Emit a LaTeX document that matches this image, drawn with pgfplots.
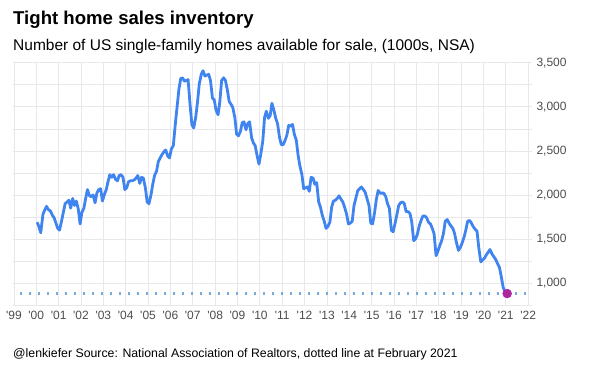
\documentclass[border=0pt]{standalone}
\usepackage{pgfplots}
\pgfplotsset{compat=1.18}
\usepackage{fontspec}
\setmainfont{Liberation Sans}
\definecolor{lineblue}{RGB}{64,132,240}
\definecolor{markc}{RGB}{172,38,158}
\definecolor{dotc}{RGB}{125,170,220}
\definecolor{gridc}{RGB}{232,232,236}
\definecolor{labc}{RGB}{77,77,77}
\newcommand\q{\textquotesingle}
\pgfplotstableread{
x y
2000.04 1690
2000.12 1640
2000.20 1570
2000.30 1780
2000.38 1830
2000.46 1870
2000.55 1830
2000.63 1820
2000.72 1770
2000.80 1740
2000.88 1680
2000.96 1620
2001.04 1600
2001.13 1700
2001.21 1800
2001.29 1900
2001.38 1920
2001.46 1940
2001.54 1850
2001.63 1960
2001.71 1880
2001.79 1930
2001.88 1840
2001.96 1670
2002.04 1800
2002.13 1850
2002.21 1960
2002.29 2060
2002.38 1990
2002.46 1980
2002.54 2000
2002.63 1910
2002.71 2020
2002.79 2060
2002.88 2070
2002.96 1930
2003.04 2000
2003.13 2060
2003.21 2150
2003.29 2230
2003.38 2200
2003.46 2230
2003.54 2180
2003.63 2160
2003.71 2220
2003.79 2230
2003.88 2200
2003.96 2060
2004.04 2080
2004.13 2150
2004.21 2160
2004.29 2160
2004.38 2170
2004.46 2190
2004.54 2220
2004.63 2130
2004.71 2200
2004.79 2190
2004.88 2080
2004.96 1920
2005.04 1900
2005.13 2000
2005.21 2120
2005.29 2220
2005.38 2270
2005.46 2380
2005.54 2420
2005.63 2460
2005.71 2490
2005.79 2510
2005.88 2440
2005.96 2420
2006.04 2520
2006.13 2560
2006.21 2780
2006.29 2980
2006.38 3200
2006.46 3320
2006.54 3330
2006.63 3290
2006.71 3300
2006.79 3310
2006.88 3020
2006.96 2800
2007.04 2760
2007.13 2880
2007.21 3050
2007.29 3260
2007.38 3370
2007.46 3410
2007.54 3350
2007.63 3360
2007.71 3370
2007.79 3300
2007.88 3100
2007.96 3080
2008.04 2960
2008.13 2910
2008.21 3060
2008.29 3300
2008.38 3330
2008.46 3300
2008.54 3200
2008.63 3060
2008.71 3030
2008.79 2990
2008.88 2880
2008.96 2690
2009.04 2670
2009.13 2720
2009.21 2820
2009.29 2830
2009.38 2740
2009.46 2810
2009.54 2830
2009.63 2650
2009.71 2590
2009.79 2560
2009.88 2440
2009.96 2350
2010.04 2460
2010.13 2610
2010.21 2880
2010.29 2950
2010.38 2870
2010.46 2900
2010.54 3040
2010.63 2960
2010.71 2870
2010.79 2810
2010.88 2650
2010.96 2570
2011.04 2570
2011.13 2620
2011.21 2680
2011.29 2790
2011.38 2780
2011.46 2800
2011.54 2690
2011.63 2620
2011.71 2450
2011.79 2330
2011.88 2230
2011.96 2070
2012.04 2080
2012.13 2090
2012.21 2040
2012.29 2200
2012.38 2190
2012.46 2120
2012.54 2140
2012.63 1920
2012.71 1860
2012.79 1770
2012.88 1700
2012.96 1620
2013.04 1640
2013.13 1690
2013.21 1860
2013.29 1930
2013.38 1940
2013.46 1960
2013.54 1990
2013.63 1950
2013.71 1920
2013.79 1860
2013.88 1780
2013.96 1670
2014.04 1680
2014.13 1700
2014.21 1880
2014.29 1960
2014.38 2050
2014.46 2070
2014.54 2090
2014.63 2060
2014.71 2030
2014.79 1960
2014.88 1880
2014.96 1680
2015.04 1670
2015.13 1800
2015.21 1950
2015.29 2050
2015.38 2020
2015.46 2020
2015.54 2020
2015.63 1980
2015.71 1900
2015.79 1850
2015.88 1600
2015.96 1580
2016.04 1670
2016.13 1780
2016.21 1880
2016.29 1910
2016.38 1920
2016.46 1900
2016.54 1810
2016.63 1810
2016.71 1790
2016.79 1700
2016.88 1480
2016.96 1500
2017.04 1550
2017.13 1650
2017.21 1710
2017.29 1760
2017.38 1760
2017.46 1740
2017.54 1690
2017.63 1670
2017.71 1620
2017.79 1560
2017.88 1310
2017.96 1360
2018.04 1420
2018.13 1480
2018.21 1560
2018.29 1700
2018.38 1720
2018.46 1680
2018.54 1650
2018.63 1620
2018.71 1560
2018.79 1460
2018.88 1370
2018.96 1400
2019.04 1450
2019.13 1520
2019.21 1600
2019.29 1700
2019.38 1710
2019.46 1680
2019.54 1640
2019.63 1610
2019.71 1590
2019.79 1400
2019.88 1240
2019.96 1260
2020.04 1280
2020.13 1320
2020.21 1350
2020.29 1380
2020.38 1330
2020.46 1300
2020.54 1270
2020.63 1220
2020.71 1180
2020.79 1080
2020.88 950
2020.96 900
2021.06 880
}\inv
\begin{document}
\begin{tikzpicture}
\useasboundingbox (0,0) rectangle (600pt,375pt);
\node[anchor=base west, font=\fontsize{18.6}{20}\selectfont\bfseries, inner sep=0pt] at (13pt,350pt) {Tight home sales inventory};
\node[anchor=base west, font=\fontsize{15.5}{18}\selectfont, inner sep=0pt] at (13pt,324pt) {Number of US single-family homes available for sale, (1000s, NSA)};
\node[anchor=base west, font=\fontsize{12.3}{14}\selectfont, inner sep=0pt] at (13pt,17pt) {@lenkiefer Source: National Association of Realtors, dotted line at February 2021};
\begin{axis}[
  at={(13pt,70pt)}, anchor=south west,
  scale only axis, width=519pt, height=242.2pt,
  xmin=1998.96, xmax=2022.17, ymin=750, ymax=3500,
  axis line style={draw=none},
  major tick length=0pt, minor tick length=0pt,
  xtick={1999,...,2022}, minor x tick num=1,
  xticklabels={\q99,\q00,\q01,\q02,\q03,\q04,\q05,\q06,\q07,\q08,\q09,\q10,\q11,\q12,\q13,\q14,\q15,\q16,\q17,\q18,\q19,\q20,\q21,\q22},
  ytick={750,1000,...,3500},
  yticklabels={,{1,000},,{1,500},,{2,000},,{2,500},,{3,000},,{3,500}},
  yticklabel pos=right,
  grid=both,
  major grid style={color=gridc, line width=0.7pt},
  minor grid style={color=gridc, line width=0.7pt},
  tick label style={font=\fontsize{12}{14}\selectfont, text=labc},
  xticklabel style={yshift=-3pt},
  yticklabel style={xshift=1pt},
  clip=false,
]
\addplot[dotc, line width=2.2pt, dash pattern=on 2.2pt off 6.8pt, line cap=butt] coordinates {(1999.28,880) (2022.17,880)};
\addplot[lineblue, line width=2.8pt, line join=round] table {\inv};
\addplot[only marks, mark=*, mark size=4.5pt, color=markc] coordinates {(2021.06,880)};
\end{axis}
\end{tikzpicture}
\end{document}
